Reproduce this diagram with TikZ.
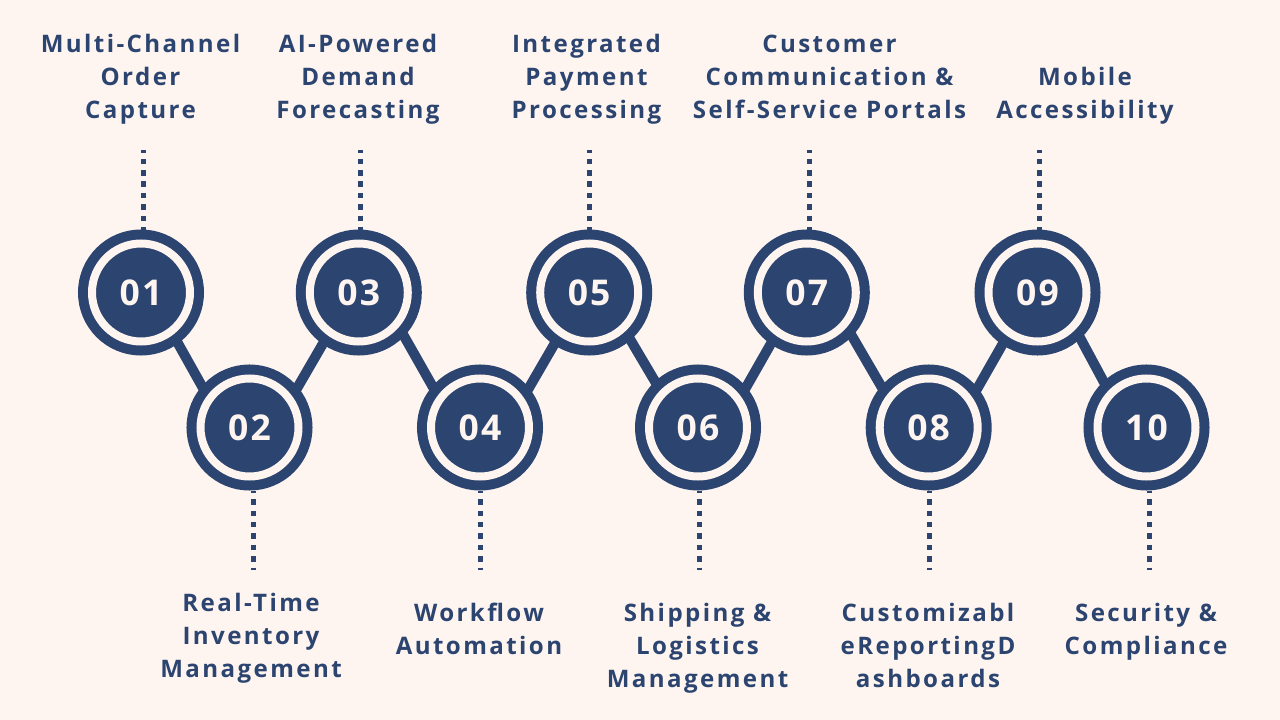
\documentclass[tikz,border=0pt]{standalone}
\usepackage{fontspec}
\usepackage{xcolor}
\setmainfont{Open Sans}
\definecolor{navy}{HTML}{2C4470}
\definecolor{cream}{HTML}{FFF5F0}
\tikzset{
  bubble/.style={circle,draw=navy,fill=navy,line width=10pt,double=cream,double distance=8pt,
    minimum size=98pt,inner sep=0pt,outer sep=14pt,text=cream,
    font=\fontsize{35.5}{35.5}\selectfont\bfseries\addfontfeatures{LetterSpace=6}},
  link/.style={draw=navy,line width=10pt,shorten <=-3pt,shorten >=-3pt},
  dots/.style={draw=navy,line width=5pt,dash pattern=on 5.5pt off 5.9pt,dash phase=2.8pt},
  caption/.style={align=center,text=navy,yshift=-5pt,
    font=\fontsize{24.1}{33}\selectfont\bfseries\addfontfeatures{LetterSpace=10},
    execute at begin node=\strut,execute at end node=\strut}
}
\begin{document}
\begin{tikzpicture}[x=1pt,y=-1pt]
  \fill[cream] (0,0) rectangle (1280,720);
  \useasboundingbox (0,0) rectangle (1280,720);

  \node[bubble] (n1) at (141,292.5) {01};
  \node[bubble] (n2) at (249.5,427.5) {02};
  \node[bubble] (n3) at (358.8,292.5) {03};
  \node[bubble] (n4) at (480,427.5) {04};
  \node[bubble] (n5) at (589.2,292.5) {05};
  \node[bubble] (n6) at (698,427.5) {06};
  \node[bubble] (n7) at (806.8,292.5) {07};
  \node[bubble] (n8) at (928.7,427.5) {08};
  \node[bubble] (n9) at (1037.5,292.5) {09};
  \node[bubble] (n10) at (1146.5,427.5) {10};

  \draw[link] (n1.-54.7)--(n2.139.4);
  \draw[link] (n2.40.7)--(n3.-125.5);
  \draw[link] (n3.-44.3)--(n4.139.2);
  \draw[link] (n4.39.4)--(n5.-124);
  \draw[link] (n5.-49)--(n6.133);
  \draw[link] (n6.40.9)--(n7.-125.6);
  \draw[link] (n7.-44.3)--(n8.139.8);
  \draw[link] (n8.39.8)--(n9.-124.4);
  \draw[link] (n9.-47.9)--(n10.133);

  % free ends of the dotted leads
  \coordinate (t1) at (143.5,150);
  \coordinate (t3) at (360.5,150);
  \coordinate (t5) at (589.5,150);
  \coordinate (t7) at (809.5,150);
  \coordinate (t9) at (1039.5,150);
  \coordinate (b2) at (253.5,570);
  \coordinate (b4) at (480.5,570);
  \coordinate (b6) at (699.5,570);
  \coordinate (b8) at (929.5,570);
  \coordinate (b10) at (1149.5,570);

  \draw[dots] (t1)--(t1|-n1.north);
  \draw[dots] (t3)--(t3|-n3.north);
  \draw[dots] (t5)--(t5|-n5.north);
  \draw[dots] (t7)--(t7|-n7.north);
  \draw[dots] (t9)--(t9|-n9.north);
  \draw[dots] (b2|-n2.south)--(b2);
  \draw[dots] (b4|-n4.south)--(b4);
  \draw[dots] (b6|-n6.south)--(b6);
  \draw[dots] (b8|-n8.south)--(b8);
  \draw[dots] (b10|-n10.south)--(b10);

  \node[caption] (l1) at (140.5,76) {Multi-Channel\\Order\\Capture};
  \node[caption] (l2) at (251,635) {Real-Time\\Inventory\\Management};
  \node[caption] (l3) at (358,76) {AI-Powered\\Demand\\Forecasting};
  \node[caption] (l4) at (479,628.5) {Workflow\\Automation};
  \node[caption] (l5) at (586.5,76) {Integrated\\Payment\\Processing};
  \node[caption] (l6) at (697.5,645) {Shipping \&\\Logistics\\Management};
  \node[caption] (l7) at (829.5,77) {Customer\\Communication \&\\Self-Service Portals};
  \node[caption] (l8) at (928,645) {Customizabl\\eReportingD\\ashboards};
  \node[caption] (l9) at (1085,92.5) {Mobile\\Accessibility};
  \node[caption] (l10) at (1146,628.5) {Security \&\\Compliance};
\end{tikzpicture}
\end{document}
